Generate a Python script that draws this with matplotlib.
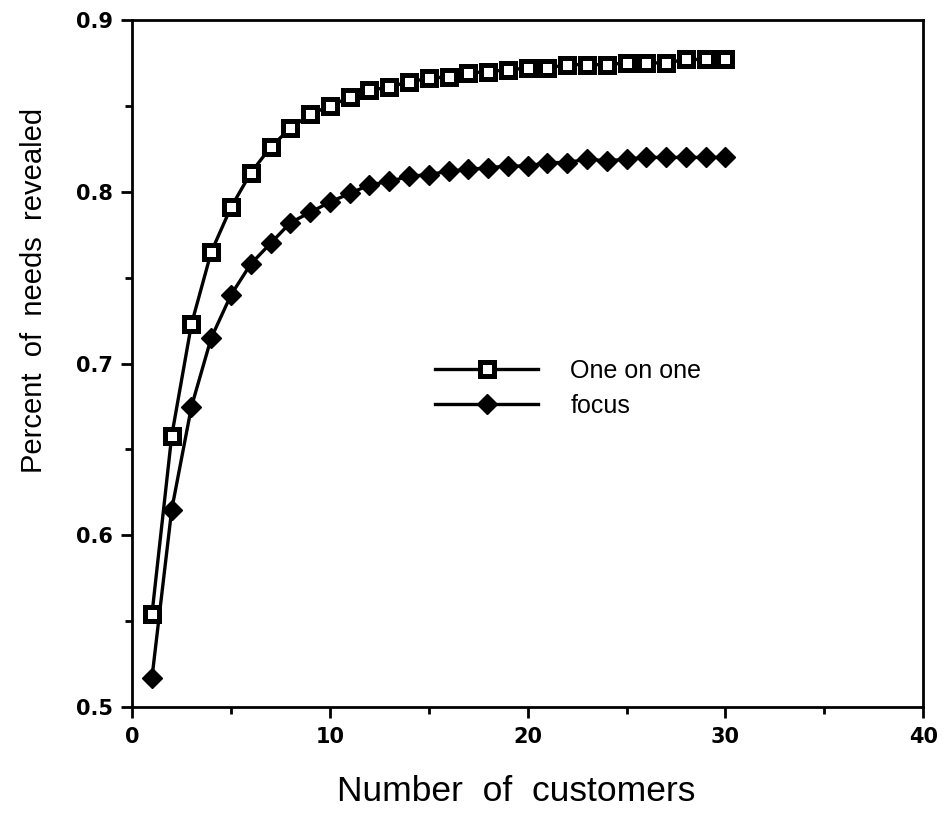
import numpy as np
import matplotlib.pyplot as plt
from matplotlib.ticker import MultipleLocator

customers = list(range(1, 31))
one_on_one = [0.554, 0.658, 0.723, 0.765, 0.791, 0.811, 0.826, 0.837, 0.845, 0.850,
              0.855, 0.859, 0.861, 0.864, 0.866, 0.867, 0.869, 0.870, 0.871, 0.872,
              0.872, 0.874, 0.874, 0.874, 0.875, 0.875, 0.875, 0.877, 0.877, 0.877]
focus = [0.517, 0.615, 0.675, 0.715, 0.740, 0.758, 0.770, 0.782, 0.788, 0.794,
         0.799, 0.804, 0.806, 0.809, 0.810, 0.812, 0.813, 0.814, 0.815, 0.815,
         0.817, 0.817, 0.819, 0.818, 0.819, 0.820, 0.820, 0.820, 0.820, 0.820]

plt.rcParams["font.family"] = ["Liberation Sans", "DejaVu Sans"]

fig = plt.figure(figsize=(9.44, 8.32), dpi=100)
ax = fig.add_axes([0.14, 0.15, 0.838, 0.826])

ax.plot(customers, one_on_one, color="black", linewidth=2.4, marker="s",
        markersize=9.5, markerfacecolor="white", markeredgecolor="black",
        markeredgewidth=3.6, label="One on one")
ax.plot(customers, focus, color="black", linewidth=2.4, marker="D",
        markersize=10, markerfacecolor="black", markeredgecolor="black",
        label="focus")

ax.set_xlim(0, 40)
ax.set_ylim(0.5, 0.9)
ax.xaxis.set_major_locator(MultipleLocator(10))
ax.xaxis.set_minor_locator(MultipleLocator(5))
ax.set_yticks([0.5, 0.6, 0.7, 0.8, 0.9])
ax.set_yticklabels(["0.5", "0.6", "0.7", "0.8", "0.9"])
ax.yaxis.set_minor_locator(MultipleLocator(0.05))

for s in ax.spines.values():
    s.set_linewidth(2)
ax.tick_params(which="major", direction="out", length=8, width=2,
               labelsize=15, pad=6)
ax.tick_params(which="minor", direction="out", length=5, width=2)
for lab in ax.get_xticklabels() + ax.get_yticklabels():
    lab.set_fontweight("bold")
    lab.set_family("DejaVu Sans")

ax.set_xlabel("Number  of  customers", fontsize=25.5)
ax.xaxis.set_label_coords(0.486, -0.099)
ax.set_ylabel("Percent  of  needs  revealed", fontsize=21)
ax.yaxis.set_label_coords(-0.107, 0.607)

ax.legend(loc="upper left", bbox_to_anchor=(0.355, 0.54), frameon=False,
          fontsize=18, handlelength=4.1, handletextpad=1.3, labelspacing=0.45)

plt.savefig("out.png", dpi=100)
